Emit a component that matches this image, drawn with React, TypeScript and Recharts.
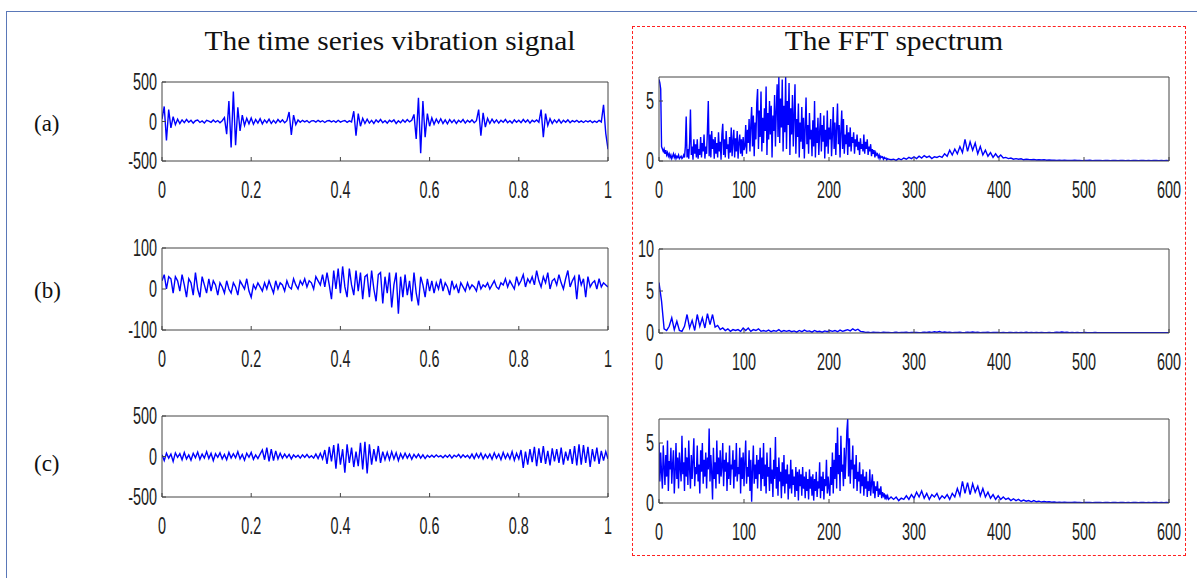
import { LineChart, Line, XAxis, YAxis } from 'recharts';

const timeTicks = [0, 0.2, 0.4, 0.6, 0.8, 1];
const freqTicks = [0, 100, 200, 300, 400, 500, 600];
const bigAmpTicks = [-500, 0, 500];
const smallAmpTicks = [-100, 0, 100];
const specTicks = [0, 5];
const specTicksB = [0, 5, 10];

// time signals, sampled evenly over 0..1 s
const signalA = [
  30, 190, -240, 150, -80,
  60, -40, 30, -25, 20, -15, 25, -10, 15, -20, 10, 18, -12, 8, -18, 15, 5, -10, 20, -8, 12, -15, 10,
  50, -160, 260, -330, 380, -300, 180, -120,
  80, -50, 40, -30, 45, -35, 25, -20, 35, -30, 20, -15, 30, -25, 15, -20, 25, -10, 20, -15, 10,
  120, -170, 80, -40,
  20, -10, 15, -5, 12, -15, 8, 10, -8, 15, -5, 10, -12, 8, 12, -5, 10, -10, 15, -8, 5, 12, -10, 8, -5,
  130, -180, 100, -60,
  40, -25, 30, -20, 15, -25, 20, -10, 25, -15, 10, -20, 15, -5, 20, -25, 10, -15, 20, -10, 25, -5, 15,
  90, -220, 300, -400, 260, -200, 100,
  -60, 45, -35, 30, -20, 35, -25, 20, -30, 25, -15, 20, -25, 15, -10, 25, -20, 15, -10, 20, -15, 10,
  150, -180, 110, -70,
  40, -25, 30, -15, 20, -20, 15, -10, 25, -15, 10, -20, 20, -10, 15, -15, 25, -10, 20, -20, 15, -5, 20, -10,
  150, -200, 100, -50,
  35, -25, 20, -15, 25, -20, 15, -10, 20, -15, 10, -5, 15, -10, 8, -12, 10, -5, 12, -15, 5, -10, 15, -5,
  210, -150, -350,
];

const signalB = [
  20, 35, 0, 30, 25, -10, 30, 20, -5, 35, 10, -20, 25, 15, -15, 40, 0, -20, 30, 10, -10,
  25, -5, 20, 10, -15, 15, 5, -10, 20, 0, -10, 15, 5, -15, 20, 10, 0, 25, -5, -20,
  10, 0, 15, 5, -5, 15, 0, 20, 5, -10, 20, 0, 15, 10, -5, 20, 5, 0, 25, 10,
  0, 20, 10, 25, 5, 20, 15, 0, 30, 20, 10, 35, 5, 40, 10, -25,
  45, 0, 50, -10, 55, 5, -20, 50, 10, -15, 45, -5, 40, -25, 30, 35, -20, 45, 0, -30, 35, 40,
  -35, 30, -10, 40, -45, 10, 40, -60, 30, -20, 35, -15, 20, -30, 40, -10, -40, 30, 10, -20, 25, -5,
  20, -10, 15, 0, 25, -5, 15, 5, -15, 20, 0, 10, -10, 15, 5, -5, 15, 0, 10, 5,
  -5, 20, 0, 10, 5, 15, 0, 10, 20, 5, 0, 15, 10, 25, 5, 20, 10, 0, 30, 10,
  20, 35, 5, 25, 15, 30, 10, 45, 20, 5, 30, 15, 40, 0, 20, 25, 10, 35, 15, 0,
  25, 45, 5, 20, 30, -25, 35, 10, 25, -20, 30, 5, 15, 20, 0, 25, 5, 15, 10, 5,
];

const signalC = [
  20, -50, 40, -20, 30, -60, 45, -10, 35, -40, 50, -30, 20, -45, 40, -15, 55, -35, 30, -20, 60, -25,
  40, -50, 35, -10, 45, -30, 25, -40, 50, -20, 35, -15, 60, -30, 25, -45, 40, -10, 50, -35, 20, -25, 30,
  80, -40, 110, -60, 90, -50, 70, -30,
  40, -20, 30, -15, 25, -30, 20, -10, 15, -20, 20, -10, 25, -15, 10, -20, 30, -25, 40, -30,
  80, -90, 120, -60, 140, -150, 160, -100, 90, -200, 150, -80, 110, -130, 60, -120, 170, -160, 180, -210,
  150, -100, 90, -60, 130, -80, 60, -40,
  50, -40, 60, -30, 45, -50, 35, -25, 40, -20, 30, -35, 25, -15, 30, -20, 20, -25, 15, -10,
  15, -10, 20, -5, 10, -15, 15, -10, 20, -20, 15, -5, 25, -15, 20, -10, 15, -20, 30, -25,
  35, -15, 40, -30, 25, -20, 30, -35, 45, -20, 30, -40, 50, -25, 35, -30, 60, -45, 40, -30,
  80, -140, 60, -100, 90, -70, 120, -120, 100, -80, 130, -90, 70, -110, 100, -60, 90, -80, 110, -100,
  60, -50, 90, -90, 130, -110, 150, -100, 140, -80, 120, -130, 90, -60, 110, -90, 70, -50, 60, -30,
];

// spectrum (a): 0..270 Hz every 1 Hz, then 273..600 Hz every 3 Hz
const fftADense = [
  6.8, 6.5, 6.0, 1.2, 1.0, 0.8, 1.0, 0.6, 0.9, 0.5, 0.7,
  0.4, 0.6, 0.3, 0.5, 0.2, 0.4, 0.6, 0.3, 0.5, 0.2, 0.4, 0.3, 0.5, 0.2, 0.3, 0.4, 0.2, 0.3, 0.5, 0.3,
  1.2, 3.7, 0.3, 1.0, 0.2, 1.5, 4.3, 0.5, 1.2, 0.1, 1.8, 0.6, 1.4, 0.3, 1.8, 0.2, 1.0, 0.5, 2.0, 0.3,
  1.5, 0.8, 2.2, 0.2, 1.2, 0.6, 2.6, 5.0, 0.4, 2.2,
  0.3, 2.5, 1.0, 1.8, 0.2, 2.0, 0.6, 1.5, 0.3, 2.4, 0.8, 1.6, 0.1, 2.2, 3.1, 0.5, 1.8, 0.3, 2.5, 1.0,
  1.4, 0.2, 2.0, 0.7, 2.8, 0.4, 1.6, 2.6, 0.3, 1.9, 0.8, 2.5, 0.2, 1.5, 2.2, 0.6, 1.8, 0.4, 2.0, 0.9,
  1.2, 3.0, 0.6, 2.6, 1.5, 3.5, 0.8, 3.0, 4.5, 1.2, 3.8, 0.4, 3.2, 1.8, 4.8, 6.0, 1.0, 4.2, 2.0, 5.8,
  0.8, 3.6, 1.5, 4.4, 2.5, 6.2, 0.5, 4.0, 1.8, 5.0, 2.2, 4.6, 0.3, 3.8, 2.5, 5.5, 1.2, 4.2, 6.4, 2.0,
  7.0, 1.5, 5.2, 2.8, 6.8, 0.8, 4.6, 2.4, 7.0, 1.0, 5.0, 3.0, 6.5, 0.5, 4.4, 2.2, 5.5, 1.2, 3.8, 6.4,
  0.6, 3.5, 2.0, 4.8, 0.3, 3.2, 1.6, 4.5, 1.0, 3.6, 0.2, 2.8, 5.3, 1.4, 3.0, 0.6, 4.0, 1.8, 2.6, 0.4,
  3.4, 1.2, 5.0, 0.3, 2.8, 1.5, 3.6, 0.5, 2.4, 4.0, 0.8, 3.0, 1.6, 3.8, 0.2, 2.6, 1.2, 4.2, 0.6, 2.8,
  1.8, 3.5, 0.4, 2.2, 4.5, 1.0, 3.2, 0.5, 2.8, 4.8, 1.4, 3.0, 0.3, 2.5, 4.2, 1.0, 3.5, 0.6, 2.2, 1.4,
  3.0, 0.5, 2.4, 1.2, 2.8, 0.8, 2.0, 1.5, 2.4, 0.6, 1.8, 1.2, 2.2, 0.9, 1.6, 0.5, 1.9, 1.0, 1.4, 0.8,
  2.2, 0.6, 1.6, 1.0, 1.8, 0.5, 1.2, 0.8, 1.4, 0.4, 1.0, 0.6, 0.9, 0.3, 0.7, 0.5, 0.6, 0.3, 0.5, 0.2,
  0.4, 0.3, 0.35, 0.15, 0.3, 0.2, 0.25, 0.1, 0.2, 0.15,
];
const fftATail = [
  0.1, 0.15, 0.05, 0.2, 0.1, 0.25, 0.15, 0.3, 0.2, 0.35, 0.2, 0.4, 0.25, 0.45, 0.3, 0.4, 0.2, 0.35, 0.3, 0.4,
  0.3, 0.6, 0.4, 0.9, 0.5, 1.0, 0.6, 1.2, 0.7, 1.8, 0.8, 1.6, 0.9, 1.5, 0.6, 1.2, 0.5, 0.9, 0.4, 0.7,
  0.3, 0.6, 0.3, 0.5, 0.25,
  0.3, 0.2, 0.25, 0.15, 0.2, 0.15, 0.18, 0.1, 0.15, 0.12, 0.1, 0.12, 0.08, 0.1, 0.08, 0.1, 0.06, 0.08, 0.06, 0.07,
  0.05, 0.06, 0.05, 0.06, 0.05,
  0.05, 0.04, 0.06, 0.04, 0.05, 0.03, 0.05, 0.04, 0.06, 0.03, 0.05, 0.04, 0.05, 0.03, 0.04, 0.05, 0.03, 0.04, 0.05, 0.03,
  0.04, 0.05, 0.03, 0.04, 0.03, 0.05, 0.04, 0.03, 0.04, 0.05, 0.03, 0.04, 0.03, 0.04, 0.05, 0.03, 0.04, 0.03, 0.04, 0.03,
];

// spectrum (b): 0..600 Hz every 3 Hz
const fftB = [
  6.0, 3.8, 0.5, 0.3, 0.8, 1.8, 0.4, 1.4, 0.3, 0.2, 0.8, 2.2, 0.6, 1.5, 0.3, 2.2, 0.8, 1.8, 0.6, 2.3,
  1.0, 2.2, 0.7, 0.9, 0.4, 0.6, 0.3, 0.5, 0.2, 0.4,
  0.3, 0.4, 0.2, 0.6, 0.3, 0.6, 0.2, 0.4, 0.3, 0.5, 0.2, 0.3, 0.2, 0.35, 0.15, 0.3, 0.2, 0.4, 0.15, 0.3,
  0.2, 0.3, 0.15, 0.25, 0.1, 0.3, 0.15, 0.35, 0.2, 0.25, 0.1, 0.3, 0.15, 0.2, 0.1, 0.25, 0.15, 0.3, 0.2, 0.3,
  0.15, 0.35, 0.2, 0.3, 0.4, 0.25, 0.5, 0.3, 0.45, 0.2,
  0.15, 0.08, 0.1, 0.05, 0.1, 0.06, 0.08, 0.05, 0.1, 0.06, 0.08, 0.05, 0.07, 0.1, 0.05, 0.08, 0.06, 0.1, 0.05, 0.07,
  0.06, 0.08, 0.05, 0.07, 0.1, 0.06, 0.12, 0.08, 0.15, 0.1, 0.18, 0.08, 0.12, 0.06, 0.1, 0.05, 0.08, 0.06, 0.1, 0.05,
  0.07, 0.1, 0.06, 0.12, 0.08, 0.1, 0.05, 0.08, 0.06, 0.1, 0.05, 0.07, 0.06, 0.08, 0.05, 0.07, 0.05, 0.06, 0.08, 0.05,
  0.07, 0.05, 0.06, 0.05, 0.08, 0.05, 0.06, 0.04, 0.07, 0.05, 0.06, 0.04, 0.05, 0.07, 0.05, 0.06, 0.1, 0.06, 0.12, 0.07,
  0.1, 0.05, 0.07, 0.05, 0.06, 0.04, 0.05, 0.06, 0.04, 0.05, 0.04, 0.06, 0.04, 0.05, 0.04, 0.05, 0.03, 0.05, 0.04, 0.05,
  0.04, 0.03, 0.05, 0.04, 0.05, 0.03, 0.04, 0.05, 0.03, 0.04, 0.05, 0.03, 0.04, 0.03, 0.05, 0.04, 0.03, 0.04, 0.05, 0.03, 0.04,
];

// spectrum (c): 0..270 Hz every 1 Hz, then 273..600 Hz every 3 Hz
const fftCDense = [
  5.0, 1.8, 4.2, 2.5, 1.2, 4.8, 3.0, 1.5, 4.0, 2.2, 5.2, 1.0, 3.5, 2.8, 4.6, 1.6, 3.2, 4.4, 0.8, 2.6,
  5.0, 2.0, 3.8, 1.2, 4.2, 3.0, 1.8, 5.6, 2.4, 3.4, 1.0, 4.6, 2.2, 3.8, 1.5, 5.2, 2.8, 1.2, 4.0, 2.0,
  3.6, 5.4, 1.4, 3.0, 2.4, 4.8, 1.8, 3.2, 0.8, 4.4, 2.6, 5.0, 1.6, 3.6, 2.2, 4.2, 1.2, 3.8, 2.8, 6.2, 1.8,
  4.0, 2.5, 0.3, 4.6, 2.0, 3.4, 1.2, 5.2, 2.4, 3.8, 1.6, 4.4, 2.2, 3.0, 5.0, 1.4, 3.6, 2.6, 4.2, 1.0,
  3.4, 2.0, 4.8, 1.5, 3.2, 2.8, 4.4, 1.2, 3.6, 2.2, 5.0, 1.8, 3.0, 2.4, 4.6, 0.8, 3.8, 2.0, 4.2, 1.4,
  3.4, 5.2, 1.6, 3.0, 2.2, 4.4, 1.0, 3.6, 0.1, 2.8, 4.8, 1.6, 3.2, 2.0, 4.0, 1.2, 3.6, 2.4, 4.6, 1.0,
  3.8, 2.0, 5.0, 1.4, 3.2, 0.8, 4.2, 2.2, 3.0, 1.0, 4.6, 1.6, 2.8, 0.5, 3.6, 2.0, 5.5, 1.2, 3.0, 0.6,
  3.8, 1.8, 2.6, 0.4, 3.4, 1.4, 4.0, 0.8, 2.8, 1.6, 3.2, 0.3, 2.4, 1.2, 3.6, 0.8, 2.8, 1.5, 2.2, 0.5,
  3.0, 1.0, 2.6, 0.2, 2.8, 1.4, 2.4, 0.6, 3.0, 1.2, 2.2, 0.4, 2.6, 1.0, 2.0, 0.3, 2.8, 1.2, 2.2, 0.6,
  2.4, 0.2, 2.0, 1.0, 2.6, 0.5, 1.8, 1.2, 3.4, 0.4, 2.2, 1.0, 2.6, 0.3, 2.0, 1.4, 3.6, 0.8, 2.2, 1.2,
  0.6, 3.0, 1.5, 4.2, 0.8, 3.6, 2.0, 5.0, 1.2, 6.3, 2.4, 4.0, 1.0, 5.6, 2.6, 3.2, 1.4, 4.6, 2.0, 3.8,
  6.0, 7.0, 2.2, 5.4, 1.6, 3.6, 2.8, 4.8, 1.2, 3.2, 2.0, 4.0, 1.0, 2.6, 1.8, 3.4, 0.8, 2.4, 1.4, 2.8,
  0.6, 2.2, 1.2, 2.6, 0.5, 1.8, 1.0, 2.8, 0.6, 1.6, 2.4, 0.8, 1.8, 0.4, 1.4, 1.0, 1.8, 0.5, 1.2, 0.7,
  1.4, 0.4, 0.9, 0.6, 0.8, 0.3, 0.7, 0.4, 0.6, 0.3,
];
const fftCTail = [
  0.5, 0.3, 0.5, 0.2, 0.4, 0.3, 0.6, 0.3, 0.7, 0.4, 0.9, 0.5, 1.0, 0.4, 0.8, 0.3, 0.7, 0.5, 0.8, 0.3,
  0.6, 0.4, 0.7, 0.3, 0.8,
  0.5, 1.2, 0.6, 1.8, 0.8, 1.7, 0.7, 1.6, 0.9, 1.4, 0.6, 1.2, 0.5, 0.9, 0.4, 0.7, 0.3, 0.6, 0.3, 0.5,
  0.3, 0.4, 0.2, 0.35, 0.2, 0.3, 0.15, 0.25, 0.15, 0.2, 0.1, 0.2, 0.1, 0.15, 0.08, 0.12, 0.08, 0.1, 0.06, 0.08,
  0.05, 0.07, 0.05, 0.06, 0.05,
  0.05, 0.04, 0.06, 0.04, 0.05, 0.03, 0.05, 0.04, 0.05, 0.03, 0.05, 0.04, 0.05, 0.03, 0.04, 0.05, 0.03, 0.04, 0.05, 0.03,
  0.04, 0.05, 0.03, 0.04, 0.03, 0.05, 0.04, 0.03, 0.04, 0.05, 0.03, 0.04, 0.03, 0.04, 0.05, 0.03, 0.04, 0.03, 0.04, 0.03,
];

const rowLabels = ['(a)', '(b)', '(c)'];

type Pt = { x: number; v: number };

const even = (values: number[], xMax: number): Pt[] =>
  values.map((v, i) => ({ x: (i / (values.length - 1)) * xMax, v }));

const split = (dense: number[], tail: number[]): Pt[] => [
  ...dense.map((v, i) => ({ x: i, v })),
  ...tail.map((v, i) => ({ x: dense.length + 2 + i * 3, v })),
];

function TickText(props: any) {
  const { x, y, payload, textAnchor } = props;
  return (
    <g transform={`translate(${x},${y})`}>
      <text
        transform="scale(0.6,1)"
        textAnchor={textAnchor}
        dominantBaseline="central"
        fontSize={24}
        fill="#222"
        fontFamily="'Liberation Sans', Arial, sans-serif"
      >
        {payload.value}
      </text>
    </g>
  );
}

interface PanelProps {
  rows: Pt[];
  xMax: number;
  xTicks: number[];
  yDomain: [number, number];
  yTicks: number[];
  left: number;
  top: number;
  width: number;
  height: number;
}

const YW = 50; // left axis width
const RW = 5; // right axis width
const MR = 25; // room for the last x label
const MT = 15; // room for the top y label
const XH = 50; // bottom axis height

function Panel({ rows, xMax, xTicks, yDomain, yTicks, left, top, width, height }: PanelProps) {
  const axisColor = '#444';
  return (
    <div style={{ position: 'absolute', left: left - YW, top: top - MT - 5 }}>
      <LineChart
        width={width + YW + RW + MR}
        height={height + MT + 5 + XH}
        data={rows}
        margin={{ top: MT, right: MR, bottom: 0, left: 0 }}
      >
        <XAxis
          dataKey="x"
          type="number"
          domain={[0, xMax]}
          ticks={xTicks}
          interval={0}
          tickSize={-4}
          tickMargin={33}
          height={XH}
          stroke={axisColor}
          tick={<TickText />}
          allowDataOverflow
        />
        <XAxis
          xAxisId="top"
          orientation="top"
          dataKey="x"
          type="number"
          domain={[0, xMax]}
          ticks={xTicks}
          interval={0}
          tickSize={-4}
          height={5}
          stroke={axisColor}
          tick={false}
          allowDataOverflow
        />
        <YAxis
          domain={yDomain}
          ticks={yTicks}
          interval={0}
          tickSize={-4}
          tickMargin={9}
          width={YW}
          stroke={axisColor}
          tick={<TickText />}
          allowDataOverflow
        />
        <YAxis
          yAxisId="r"
          orientation="right"
          domain={yDomain}
          ticks={yTicks}
          interval={0}
          tickSize={-4}
          width={RW}
          stroke={axisColor}
          tick={false}
          allowDataOverflow
        />
        <Line
          dataKey="v"
          stroke="#0000ff"
          strokeWidth={1.4}
          dot={false}
          isAnimationActive={false}
        />
      </LineChart>
    </div>
  );
}

const serif = "'Liberation Serif', 'Times New Roman', serif";

function Title({ text, cx }: { text: string; cx: number }) {
  return (
    <div
      style={{
        position: 'absolute',
        left: cx,
        top: 26,
        whiteSpace: 'nowrap',
        transform: 'translateX(-50%) scaleX(1.09)',
        fontFamily: serif,
        fontSize: 27,
        color: '#111',
      }}
    >
      {text}
    </div>
  );
}

export default function App() {
  const leftX = 162;
  const leftW = 446;
  const rightX = 659;
  const rightW = 510;
  return (
    <div
      style={{
        position: 'fixed',
        left: 0,
        top: 0,
        width: 1197,
        height: 578,
        background: '#fff',
        overflow: 'hidden',
      }}
    >
      <div
        style={{
          position: 'absolute',
          left: 6,
          top: 11,
          width: 1300,
          height: 700,
          border: '1.5px solid #5a78b8',
        }}
      />
      <div
        style={{
          position: 'absolute',
          left: 632,
          top: 26,
          width: 552,
          height: 528,
          border: '1.5px dashed #ff2020',
        }}
      />
      <Title text="The time series vibration signal" cx={390} />
      <Title text="The FFT spectrum" cx={894} />
      {rowLabels.map((lab, i) => (
        <div
          key={lab}
          style={{
            position: 'absolute',
            left: 34,
            top: [111, 278, 451][i],
            fontFamily: serif,
            fontSize: 23,
            color: '#111',
          }}
        >
          {lab}
        </div>
      ))}

      <Panel rows={even(signalA, 1)} xMax={1} xTicks={timeTicks} yDomain={[-500, 500]} yTicks={bigAmpTicks} left={leftX} top={82} width={leftW} height={79} />
      <Panel rows={even(signalB, 1)} xMax={1} xTicks={timeTicks} yDomain={[-100, 100]} yTicks={smallAmpTicks} left={leftX} top={248} width={leftW} height={82} />
      <Panel rows={even(signalC, 1)} xMax={1} xTicks={timeTicks} yDomain={[-500, 500]} yTicks={bigAmpTicks} left={leftX} top={416} width={leftW} height={81} />

      <Panel rows={split(fftADense, fftATail)} xMax={600} xTicks={freqTicks} yDomain={[0, 7]} yTicks={specTicks} left={rightX} top={77} width={rightW} height={84} />
      <Panel rows={even(fftB, 600)} xMax={600} xTicks={freqTicks} yDomain={[0, 10]} yTicks={specTicksB} left={rightX} top={249} width={rightW} height={84} />
      <Panel rows={split(fftCDense, fftCTail)} xMax={600} xTicks={freqTicks} yDomain={[0, 7]} yTicks={specTicks} left={rightX} top={419} width={rightW} height={84} />
    </div>
  );
}
